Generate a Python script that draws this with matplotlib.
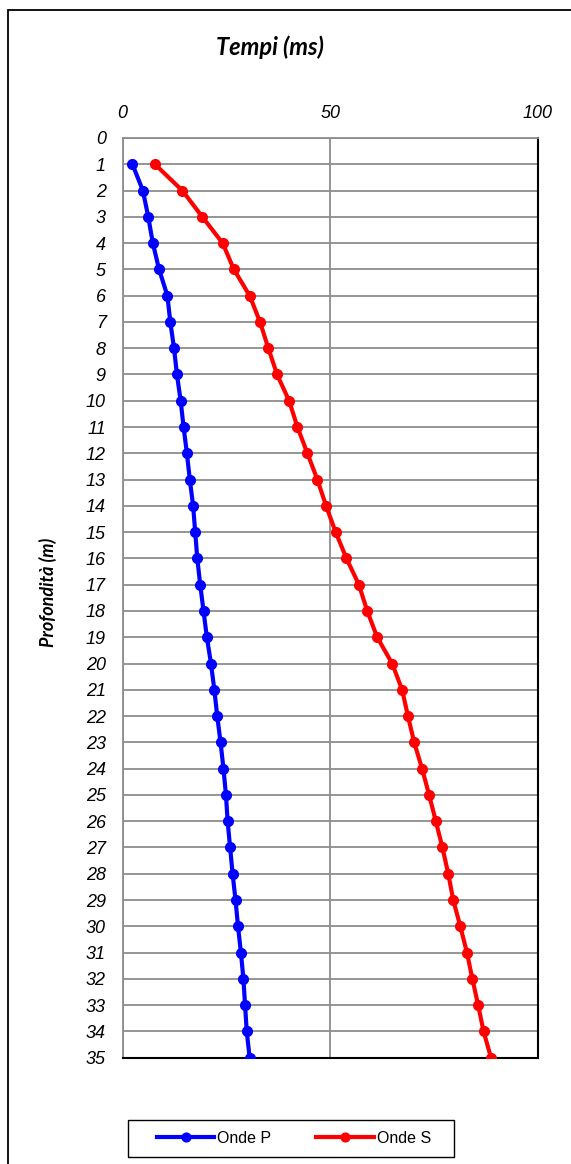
import matplotlib
matplotlib.use("Agg")
import matplotlib.pyplot as plt
from matplotlib.patches import Rectangle

# profondità (m) e tempi (ms)
depth = list(range(1, 36))
onde_p = [2.4, 4.9, 6.2, 7.3, 8.8, 10.8, 11.5, 12.4, 13.1, 14.0,
          14.7, 15.5, 16.2, 17.0, 17.5, 18.0, 18.7, 19.5, 20.3, 21.3,
          22.1, 22.8, 23.6, 24.3, 24.9, 25.3, 25.9, 26.5, 27.2, 27.8,
          28.5, 29.1, 29.5, 29.9, 30.6]
onde_s = [7.8, 14.4, 19.2, 24.1, 26.8, 30.6, 33.1, 35.1, 37.2, 40.1,
          42.1, 44.5, 46.9, 49.0, 51.3, 53.9, 56.9, 58.9, 61.3, 64.9,
          67.3, 68.7, 70.2, 72.1, 73.8, 75.4, 77.0, 78.4, 79.6, 81.3,
          82.9, 84.2, 85.6, 86.9, 88.7]
x_ticks = [0, 50, 100]
y_ticks = list(range(0, 36))

W, H = 571, 1164
fig = plt.figure(figsize=(W / 100, H / 100), dpi=100)
fig.patch.set_facecolor("white")

# cornice esterna del grafico (tagliata a destra e in basso)
fig.patches.append(Rectangle((8 / W, -0.05), 1.1, 1 - 10 / H + 0.05,
                             transform=fig.transFigure, fill=False,
                             edgecolor="black", lw=1.3))

left, right = 122.5 / W, 538 / W
top, bottom = 1 - 138 / H, 1 - 1057.7 / H
ax = fig.add_axes([left, bottom, right - left, top - bottom])

ax.plot(onde_p, depth, color="#0000ff", lw=3, marker="o", ms=7,
        label="Onde P", zorder=3)
ax.plot(onde_s, depth, color="#ff0000", lw=3, marker="o", ms=7,
        label="Onde S", zorder=3)

ax.set_xlim(0, 100)
ax.set_ylim(35, 0)
ax.set_xticks(x_ticks)
ax.set_yticks(y_ticks)
ax.xaxis.tick_top()
ax.tick_params(axis="both", length=0, labelsize=13)
ax.tick_params(axis="x", pad=11.5)
ax.tick_params(axis="y", pad=12)
for lab in ax.get_xticklabels() + ax.get_yticklabels():
    lab.set_fontfamily("Liberation Sans")
    lab.set_fontstyle("italic")
    lab.set_fontweight("normal")

ax.grid(True, color="#8c8c8c", lw=1.3)
ax.set_axisbelow(True)
for side in ["left", "top"]:
    ax.spines[side].set_color("#8c8c8c")
    ax.spines[side].set_linewidth(1.3)
for side in ["right", "bottom"]:
    ax.spines[side].set_color("black")
    ax.spines[side].set_linewidth(1.5)

fig.text(270 / W, 1 - 47 / H, "Tempi (ms)", ha="center", va="center",
         fontsize=17, fontweight="bold", fontstyle="italic", family="Lato")
fig.text(48 / W, 1 - 592 / H, "Profondità (m)", ha="center", va="center",
         rotation=90, fontsize=13, fontweight="bold", fontstyle="italic",
         family="Lato")

leg = ax.legend(loc="center", bbox_to_anchor=(294 / W, 1 - 1138.5 / H),
                bbox_transform=fig.transFigure, ncol=2, frameon=False,
                markerscale=0.9, handlelength=3.6, columnspacing=2.8,
                handletextpad=0.2, numpoints=1,
                prop={"family": "Liberation Sans", "size": 11.5})
fig.patches.append(Rectangle((128 / W, 1 - 1157 / H), 326 / W, 37 / H,
                             transform=fig.transFigure, fill=False,
                             edgecolor="black", lw=1.0))

fig.savefig("out.png", dpi=100)
